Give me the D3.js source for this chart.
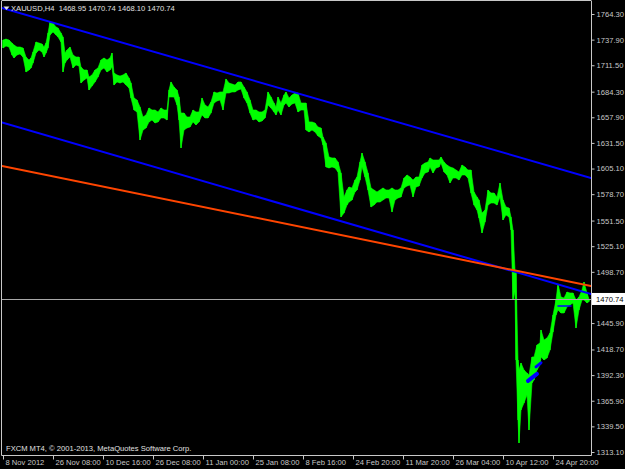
<!DOCTYPE html>
<html><head><meta charset="utf-8">
<script src="https://cdn.jsdelivr.net/npm/d3@7"></script>
<style>html,body{margin:0;padding:0;background:#000;overflow:hidden}svg{display:block}</style>
</head><body>
<svg id="c" width="625" height="469"></svg>
<script>
// ---- data ----
const symbolTitle = "XAUUSD,H4  1468.95 1470.74 1468.10 1470.74";
const copyright = "FXCM MT4, \u00a9 2001-2013, MetaQuotes Software Corp.";
const yTicks = [1764.30,1737.90,1711.50,1684.30,1657.90,1631.50,1605.10,1578.70,1551.50,1525.10,1498.70,1445.90,1418.70,1392.30,1365.90,1339.50,1313.10];
const lastPrice = 1470.74;
const xTickBars = [1,51,101,151,201,251,301,351,401,451,501,551];
const xTickLabels = ["8 Nov 2012","26 Nov 08:00","10 Dec 16:00","26 Dec 08:00","11 Jan 00:00","25 Jan 08:00","8 Feb 16:00","24 Feb 20:00","11 Mar 20:00","26 Mar 04:00","10 Apr 12:00","24 Apr 20:00"];
// bar position (index), high, low
const barIdx = [1,4,7,10,12,15,18,21,24,27,29,31,34,37,40,42,44,46,48,51,54,56,59,61,63,65,68,71,74,77,79,82,85,87,90,93,96,99,102,105,108,110,112,115,118,121,124,127,129,132,135,138,141,144,147,150,153,156,159,162,165,167,169,172,175,177,179,182,185,188,191,194,197,200,203,206,209,212,215,218,221,224,227,230,233,236,239,242,245,248,251,254,257,260,263,266,269,272,274,276,279,282,284,287,290,293,296,299,302,304,307,310,313,316,319,321,324,327,330,333,336,339,342,345,347,350,353,355,358,360,363,366,369,372,375,378,381,384,387,390,393,396,399,402,405,408,411,414,417,420,423,426,428,431,434,437,439,442,445,448,451,454,457,460,463,466,469,472,475,477,480,483,486,489,492,495,498,501,504,507,509,511,513,514,516,517,519,522,525,527,530,532,535,538,539,542,545,548,551,554,556,559,562,565,568,571,574,577,580,582,585,587];
const barHigh = [1737.5,1738.5,1737.5,1734.4,1732.4,1730.3,1730.3,1729.3,1720.0,1716.9,1719.0,1725.2,1735.5,1734.4,1733.4,1730.3,1734.4,1744.7,1756.1,1755.0,1750.9,1749.9,1744.7,1740.6,1724.1,1727.2,1730.3,1722.1,1720.0,1720.0,1709.7,1706.6,1706.6,1699.4,1701.5,1706.6,1708.7,1716.9,1719.0,1716.9,1719.0,1724.1,1703.5,1701.5,1700.4,1701.5,1703.5,1698.4,1693.2,1677.8,1675.7,1668.5,1658.2,1660.3,1667.5,1665.4,1665.4,1663.4,1667.5,1665.4,1665.4,1686.0,1694.3,1689.1,1686.0,1678.8,1662.3,1662.3,1658.2,1658.2,1665.4,1663.4,1663.4,1677.8,1670.6,1668.5,1673.6,1684.0,1682.9,1684.0,1684.0,1697.4,1693.2,1692.2,1691.1,1694.3,1694.3,1689.1,1684.0,1675.7,1665.4,1665.4,1663.4,1663.4,1665.4,1684.0,1678.8,1672.6,1668.5,1678.8,1672.6,1680.9,1684.0,1677.8,1680.9,1682.9,1682.9,1672.6,1672.6,1672.6,1653.1,1653.1,1652.0,1647.9,1646.9,1637.6,1631.4,1617.0,1616.0,1616.0,1611.9,1600.5,1575.8,1583.0,1586.1,1585.1,1593.3,1596.4,1611.9,1621.1,1611.9,1600.5,1585.1,1583.0,1581.0,1583.0,1585.1,1583.0,1583.0,1585.1,1583.0,1583.0,1585.1,1595.4,1598.5,1596.4,1593.3,1596.4,1596.4,1608.7,1610.8,1611.9,1616.0,1613.9,1613.9,1613.9,1617.0,1611.9,1608.7,1606.7,1605.7,1603.6,1601.6,1608.7,1606.7,1603.6,1603.6,1581.0,1575.8,1572.7,1559.3,1562.4,1583.0,1579.9,1579.9,1575.8,1590.2,1572.7,1565.5,1564.5,1555.2,1541.8,1500.6,1497.5,1407.9,1397.6,1404.8,1397.6,1394.5,1392.5,1411.0,1411.0,1423.4,1425.4,1438.8,1428.5,1430.5,1435.7,1454.3,1469.7,1486.2,1472.8,1471.7,1477.9,1476.9,1476.9,1469.7,1472.8,1480.0,1488.2,1476.9,1470.74];
const barLow = [1729.3,1731.3,1730.3,1722.1,1719.0,1722.1,1723.1,1720.0,1704.6,1706.6,1708.7,1713.8,1724.1,1727.2,1725.2,1720.0,1724.1,1729.3,1742.7,1745.8,1742.7,1740.6,1735.5,1704.6,1713.8,1716.9,1720.0,1708.7,1711.8,1710.7,1693.2,1696.3,1698.4,1686.0,1690.1,1694.3,1699.4,1706.6,1708.7,1704.6,1706.6,1709.7,1691.1,1694.3,1693.2,1694.3,1691.1,1688.1,1677.8,1665.4,1663.4,1634.5,1644.8,1646.9,1653.1,1655.1,1652.0,1653.1,1657.2,1657.2,1655.1,1678.8,1678.8,1678.8,1670.6,1655.1,1626.3,1644.8,1646.9,1647.9,1653.1,1650.0,1653.1,1660.3,1657.2,1657.2,1662.3,1672.6,1674.7,1675.7,1665.4,1682.9,1682.9,1684.0,1684.0,1686.0,1687.0,1677.8,1672.6,1662.3,1655.1,1656.1,1653.1,1654.1,1657.2,1670.6,1667.5,1663.4,1660.3,1665.4,1660.3,1670.6,1672.6,1668.5,1671.6,1672.6,1663.4,1665.4,1665.4,1644.8,1642.8,1644.8,1642.8,1638.6,1636.6,1629.4,1606.7,1605.7,1606.7,1605.7,1601.6,1555.2,1559.3,1567.5,1570.6,1572.7,1581.0,1583.0,1593.3,1606.7,1596.4,1583.0,1565.5,1567.5,1570.6,1570.6,1572.7,1574.8,1574.8,1560.3,1572.7,1574.8,1575.8,1585.1,1587.1,1588.1,1575.8,1586.1,1587.1,1595.4,1600.5,1601.6,1606.7,1600.5,1605.7,1606.7,1610.8,1601.6,1598.5,1590.2,1595.4,1595.4,1593.3,1598.5,1598.5,1595.4,1579.9,1567.5,1562.4,1554.2,1538.7,1550.0,1567.5,1569.6,1569.6,1567.5,1575.8,1552.1,1557.3,1555.2,1541.8,1469.7,1477.9,1407.9,1346.1,1322.4,1356.4,1363.6,1371.9,1335.8,1384.2,1387.3,1397.6,1402.8,1411.0,1407.9,1410.0,1418.2,1436.7,1454.3,1459.4,1456.3,1456.3,1462.5,1464.6,1466.6,1440.8,1459.4,1469.7,1469.7,1466.6,1468.10];
// trend lines: [barStart, priceStart, barEnd, priceEnd]
const channelUpper = [0, 1770.5, 589, 1595.4];
const channelLower = [0, 1652.5, 589, 1475.9];
const orangeLine   = [0, 1607.7, 589, 1484.1];
const smallBlue1   = [526, 1386.3, 535, 1393.5];
const smallBlue2   = [534, 1400.8, 539, 1405.0];
const smallBlue3   = [556, 1463.5, 569, 1463.5];

// ---- layout ----
const svg = d3.select("#c");
const L = 2, R = 591, T = 1, B = 455;
const x = d3.scaleLinear().domain([0, 589]).range([L, R]);
const y = d3.scaleLinear().domain([1313.10, 1764.30]).range([452, 14]);
const font = "'Liberation Sans', Arial, sans-serif";
const fg = "#c8c8c8";

svg.append("rect").attr("width",625).attr("height",469).attr("fill","#000");

const plot = svg.append("g");
plot.append("clipPath").attr("id","clip").append("rect").attr("x",L).attr("y",T).attr("width",R-L).attr("height",B-T);
const g = plot.append("g").attr("clip-path","url(#clip)");

// price bars band
const bars = barIdx.map((b,i)=>({b, h:barHigh[i], l:barLow[i]}));
const area = d3.area().x(d=>x(d.b)).y0(d=>y(d.l)).y1(d=>y(d.h));
g.append("path").datum(bars).attr("d",area).attr("fill","#00ff00").attr("stroke","#00ff00").attr("stroke-width",0.6);
g.selectAll("line.bar").data(bars).enter().append("line")
  .attr("x1",d=>x(d.b)).attr("x2",d=>x(d.b))
  .attr("y1",d=>y(d.h)).attr("y2",d=>y(d.l))
  .attr("stroke","#00ff00").attr("stroke-width",1.2);

// horizontal last-price line
g.append("line").attr("x1",L).attr("x2",R).attr("y1",Math.round(y(lastPrice))+0.5).attr("y2",Math.round(y(lastPrice))+0.5)
  .attr("stroke","#a8a8a8").attr("stroke-width",1);

function tl(arr,color,w){
  g.append("line").attr("x1",x(arr[0])).attr("y1",y(arr[1])).attr("x2",x(arr[2])).attr("y2",y(arr[3]))
   .attr("stroke",color).attr("stroke-width",w).attr("stroke-linecap","round");
}
tl(channelUpper,"#0000ff",2);
tl(channelLower,"#0000ff",2);
tl(orangeLine,"#ff4500",2);
tl(smallBlue1,"#0000ff",4);
tl(smallBlue2,"#0000ff",3);
tl(smallBlue3,"#0000ff",1.5);

// frame
svg.append("line").attr("x1",L-0.5).attr("x2",L-0.5).attr("y1",T).attr("y2",B+0.5).attr("stroke",fg).attr("stroke-width",1);
svg.append("line").attr("x1",L-0.5).attr("x2",R+0.5).attr("y1",T-0.5).attr("y2",T-0.5).attr("stroke",fg).attr("stroke-width",1);

// right axis
const yAxis = d3.axisRight(y).tickValues(yTicks).tickSize(3).tickPadding(2).tickFormat(d=>d.toFixed(2));
const ya = svg.append("g").attr("transform",`translate(${R+0.5},0)`).call(yAxis);
ya.select(".domain").attr("stroke",fg).attr("d",`M0,${T}V${B+0.5}`);
ya.selectAll(".tick line").attr("stroke",fg);
ya.selectAll(".tick text").attr("fill",fg).attr("font-family",font).attr("font-size","7.6px");

// last price label
const ly = y(lastPrice);
svg.append("rect").attr("x",R+1).attr("y",ly-6).attr("width",33).attr("height",12).attr("fill","#fff");
svg.append("text").attr("x",R+5).attr("y",ly+3).text(lastPrice.toFixed(2))
  .attr("fill","#000").attr("font-family",font).attr("font-size","7.6px");

// bottom axis
const xAxis = d3.axisBottom(x).tickValues(xTickBars).tickSize(4).tickFormat((d,i)=>xTickLabels[i]);
const xa = svg.append("g").attr("transform",`translate(0,${B+0.5})`).call(xAxis);
xa.select(".domain").attr("stroke",fg).attr("d",`M${L-0.5},0H${R+0.5}`);
xa.selectAll(".tick line").attr("stroke",fg);
xa.selectAll(".tick text").attr("fill",fg).attr("font-family",font).attr("font-size","7.6px")
  .attr("text-anchor","start").attr("x",2).attr("y",4).attr("dy","0.71em");

// title
svg.append("path").attr("d","M3.5,6.5 L9.5,6.5 L6.5,10 Z").attr("fill","#e0e0e0");
svg.append("text").attr("x",11).attr("y",11).text(symbolTitle).attr("xml:space","preserve").style("white-space","pre")
  .attr("fill","#e0e0e0").attr("font-family",font).attr("font-size","7.6px");

// copyright
svg.append("text").attr("x",6).attr("y",451).text(copyright)
  .attr("fill","#e0e0e0").attr("font-family",font).attr("font-size","7.6px");
</script>
</body></html>
